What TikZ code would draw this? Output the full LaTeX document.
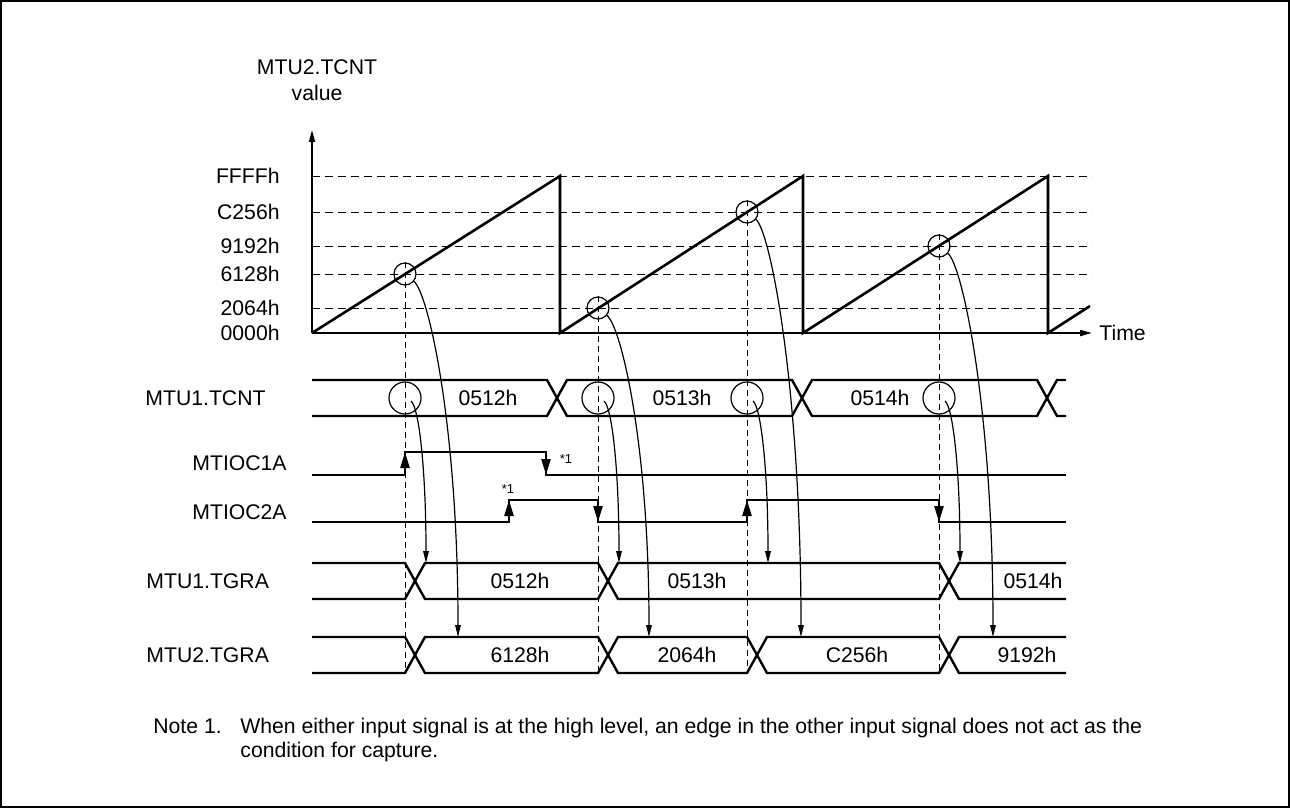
\documentclass[tikz,border=0pt]{standalone}
\usepackage{fontspec}
\setmainfont{Liberation Sans}
\usepackage{tikz}
\usetikzlibrary{arrows.meta}

\begin{document}
\begin{tikzpicture}[x=0.5pt, y=-0.5pt, font=\fontsize{10.6}{13}\selectfont,
  sig/.style={line width=1.2pt},
  axis/.style={line width=0.9pt, -{Triangle[length=6pt,width=3pt]}},
  lvl/.style={line width=0.5pt, dash pattern=on 4pt off 2.5pt},
  guide/.style={line width=0.5pt, dash pattern=on 3pt off 2pt},
  ring/.style={draw, circle, line width=0.6pt, inner sep=0pt},
  capt/.style={line width=0.6pt, -{Triangle[length=6pt,width=2.8pt]}},
  edgearr/.style={line width=1.2pt, -{Triangle[length=8pt,width=4.5pt]}},
  lbl/.style={anchor=west, inner sep=0pt},
  lvllbl/.style={anchor=east, inner sep=0pt},
  fn/.style={inner sep=0pt, font=\fontsize{6.5}{7}\selectfont},
  notefont/.style={anchor=base west, inner sep=0pt, font=\fontsize{10.6}{13}\selectfont}]
\useasboundingbox (0,0) rectangle (1290,808);
\draw[line width=1pt] (1,1) rectangle (1289,807);

\node[align=center, inner sep=0pt] (ttl) at (317,80) {MTU2.TCNT\\value};
\coordinate (o) at (312,333);
\coordinate (ytop) at (312,130);
\coordinate (xend) at (1092,333);
\draw[axis] (o) -- (ytop);
\draw[axis] (o) -- (xend);
\node[lbl] (time) at (1099,333) {Time};

\node[lvllbl] (lvF) at (280,176) {FFFFh};
\node[lvllbl] (lvC) at (280,212) {C256h};
\node[lvllbl] (lv9) at (280,246) {9192h};
\node[lvllbl] (lv6) at (280,274) {6128h};
\node[lvllbl] (lv2) at (280,308) {2064h};
\node[lvllbl] (lv0) at (280,333) {0000h};
\draw[lvl] (312,176) -- (1092,176);
\draw[lvl] (312,212) -- (1092,212);
\draw[lvl] (312,246) -- (1092,246);
\draw[lvl] (312,274) -- (1092,274);
\draw[lvl] (312,308) -- (1092,308);

\draw[sig, line width=1.3pt] (o) -- (560,176) -- (560,333) -- (803,176) -- (803,333) -- (1048,176) -- (1048,333) -- (1090,306);

\node[ring, minimum size=11pt] (r1) at (405,274) {};
\node[ring, minimum size=11pt] (r2) at (598,308) {};
\node[ring, minimum size=11pt] (r3) at (747,212) {};
\node[ring, minimum size=11pt] (r4) at (939,246) {};

\node[lbl] (tcnt1) at (145,398) {MTU1.TCNT};
\node[lbl] (ioc1) at (192,463) {MTIOC1A};
\node[lbl] (ioc2) at (192,512) {MTIOC2A};
\node[lbl] (tgra1) at (146,581) {MTU1.TGRA};
\node[lbl] (tgra2) at (146,655) {MTU2.TGRA};

\draw[sig] (312,380) -- (547,380) -- (567,416) -- (792,416) -- (812,380) -- (1037,380) -- (1057,416) -- (1066,416);
\draw[sig] (312,416) -- (547,416) -- (567,380) -- (792,380) -- (812,416) -- (1037,416) -- (1057,380) -- (1066,380);
\node (v512) at (488,398) {0512h};
\node (v513) at (682,398) {0513h};
\node (v514) at (880,398) {0514h};

\node[ring, minimum size=16pt] (k1) at (405,398) {};
\node[ring, minimum size=16pt] (k2) at (598,398) {};
\node[ring, minimum size=16pt] (k3) at (747,398) {};
\node[ring, minimum size=16pt] (k4) at (939,398) {};

\draw[sig] (312,475) -- (405,475) -- (405,452) -- (546,452) -- (546,475) -- (1066,475);
\draw[edgearr] (405,475) -- (405,452);
\draw[edgearr] (546,452) -- (546,475);
\node[fn] (fn1) at (566,459) {*1};

\draw[sig] (312,522) -- (509,522) -- (509,500) -- (598,500) -- (598,522) -- (747,522) -- (747,500) -- (939,500) -- (939,522) -- (1066,522);
\draw[edgearr] (509,522) -- (509,500);
\draw[edgearr] (598,500) -- (598,522);
\draw[edgearr] (747,522) -- (747,500);
\draw[edgearr] (939,500) -- (939,522);
\node[fn] (fn2) at (508,489) {*1};

\draw[sig] (312,563) -- (405,563) -- (425,599) -- (598,599) -- (618,563) -- (939,563) -- (959,599) -- (1066,599);
\draw[sig] (312,599) -- (405,599) -- (425,563) -- (598,563) -- (618,599) -- (939,599) -- (959,563) -- (1066,563);
\node (g512) at (520,581) {0512h};
\node (g513) at (697,581) {0513h};
\node (g514) at (1033,581) {0514h};

\draw[sig] (312,637) -- (405,637) -- (425,673) -- (598,673) -- (618,637) -- (747,637) -- (767,673) -- (939,673) -- (959,637) -- (1066,637);
\draw[sig] (312,673) -- (405,673) -- (425,637) -- (598,637) -- (618,673) -- (747,673) -- (767,637) -- (939,637) -- (959,673) -- (1066,673);
\node (h6128) at (520,655) {6128h};
\node (h2064) at (687,655) {2064h};
\node (hC256) at (857,655) {C256h};
\node (h9192) at (1027,655) {9192h};

\coordinate (g1) at (405,673);
\coordinate (g2) at (598,673);
\coordinate (g3) at (747,673);
\coordinate (g4) at (939,673);
\draw[guide] (r1.north) -- (g1);
\draw[guide] (r2.north) -- (g2);
\draw[guide] (r3.north) -- (g3);
\draw[guide] (r4.north) -- (g4);

\coordinate (a1) at (458,637);
\coordinate (a2) at (649,637);
\coordinate (a3) at (801,637);
\coordinate (a4) at (993,637);
\draw[capt] (r1.-40) .. controls (428,292) and (458,423) .. (a1);
\draw[capt] (r2.-40) .. controls (621,326) and (649,444) .. (a2);
\draw[capt] (r3.-40) .. controls (770,230) and (801,386) .. (a3);
\draw[capt] (r4.-40) .. controls (962,264) and (993,407) .. (a4);

\coordinate (b1) at (426,563);
\coordinate (b2) at (619,563);
\coordinate (b3) at (768,563);
\coordinate (b4) at (960,563);
\draw[capt] ([shift={(6,3)}]k1.center) .. controls (419,407) and (426,470) .. (b1);
\draw[capt] ([shift={(6,3)}]k2.center) .. controls (612,407) and (619,470) .. (b2);
\draw[capt] ([shift={(6,3)}]k3.center) .. controls (761,407) and (768,470) .. (b3);
\draw[capt] ([shift={(6,3)}]k4.center) .. controls (953,407) and (960,470) .. (b4);

\node[notefont] (note) at (153,733) {Note 1.};
\node[notefont] (notel1) at (240,733) {When either input signal is at the high level, an edge in the other input signal does not act as the};
\node[notefont] (notel2) at (240,757) {condition for capture.};
\end{tikzpicture}
\end{document}
